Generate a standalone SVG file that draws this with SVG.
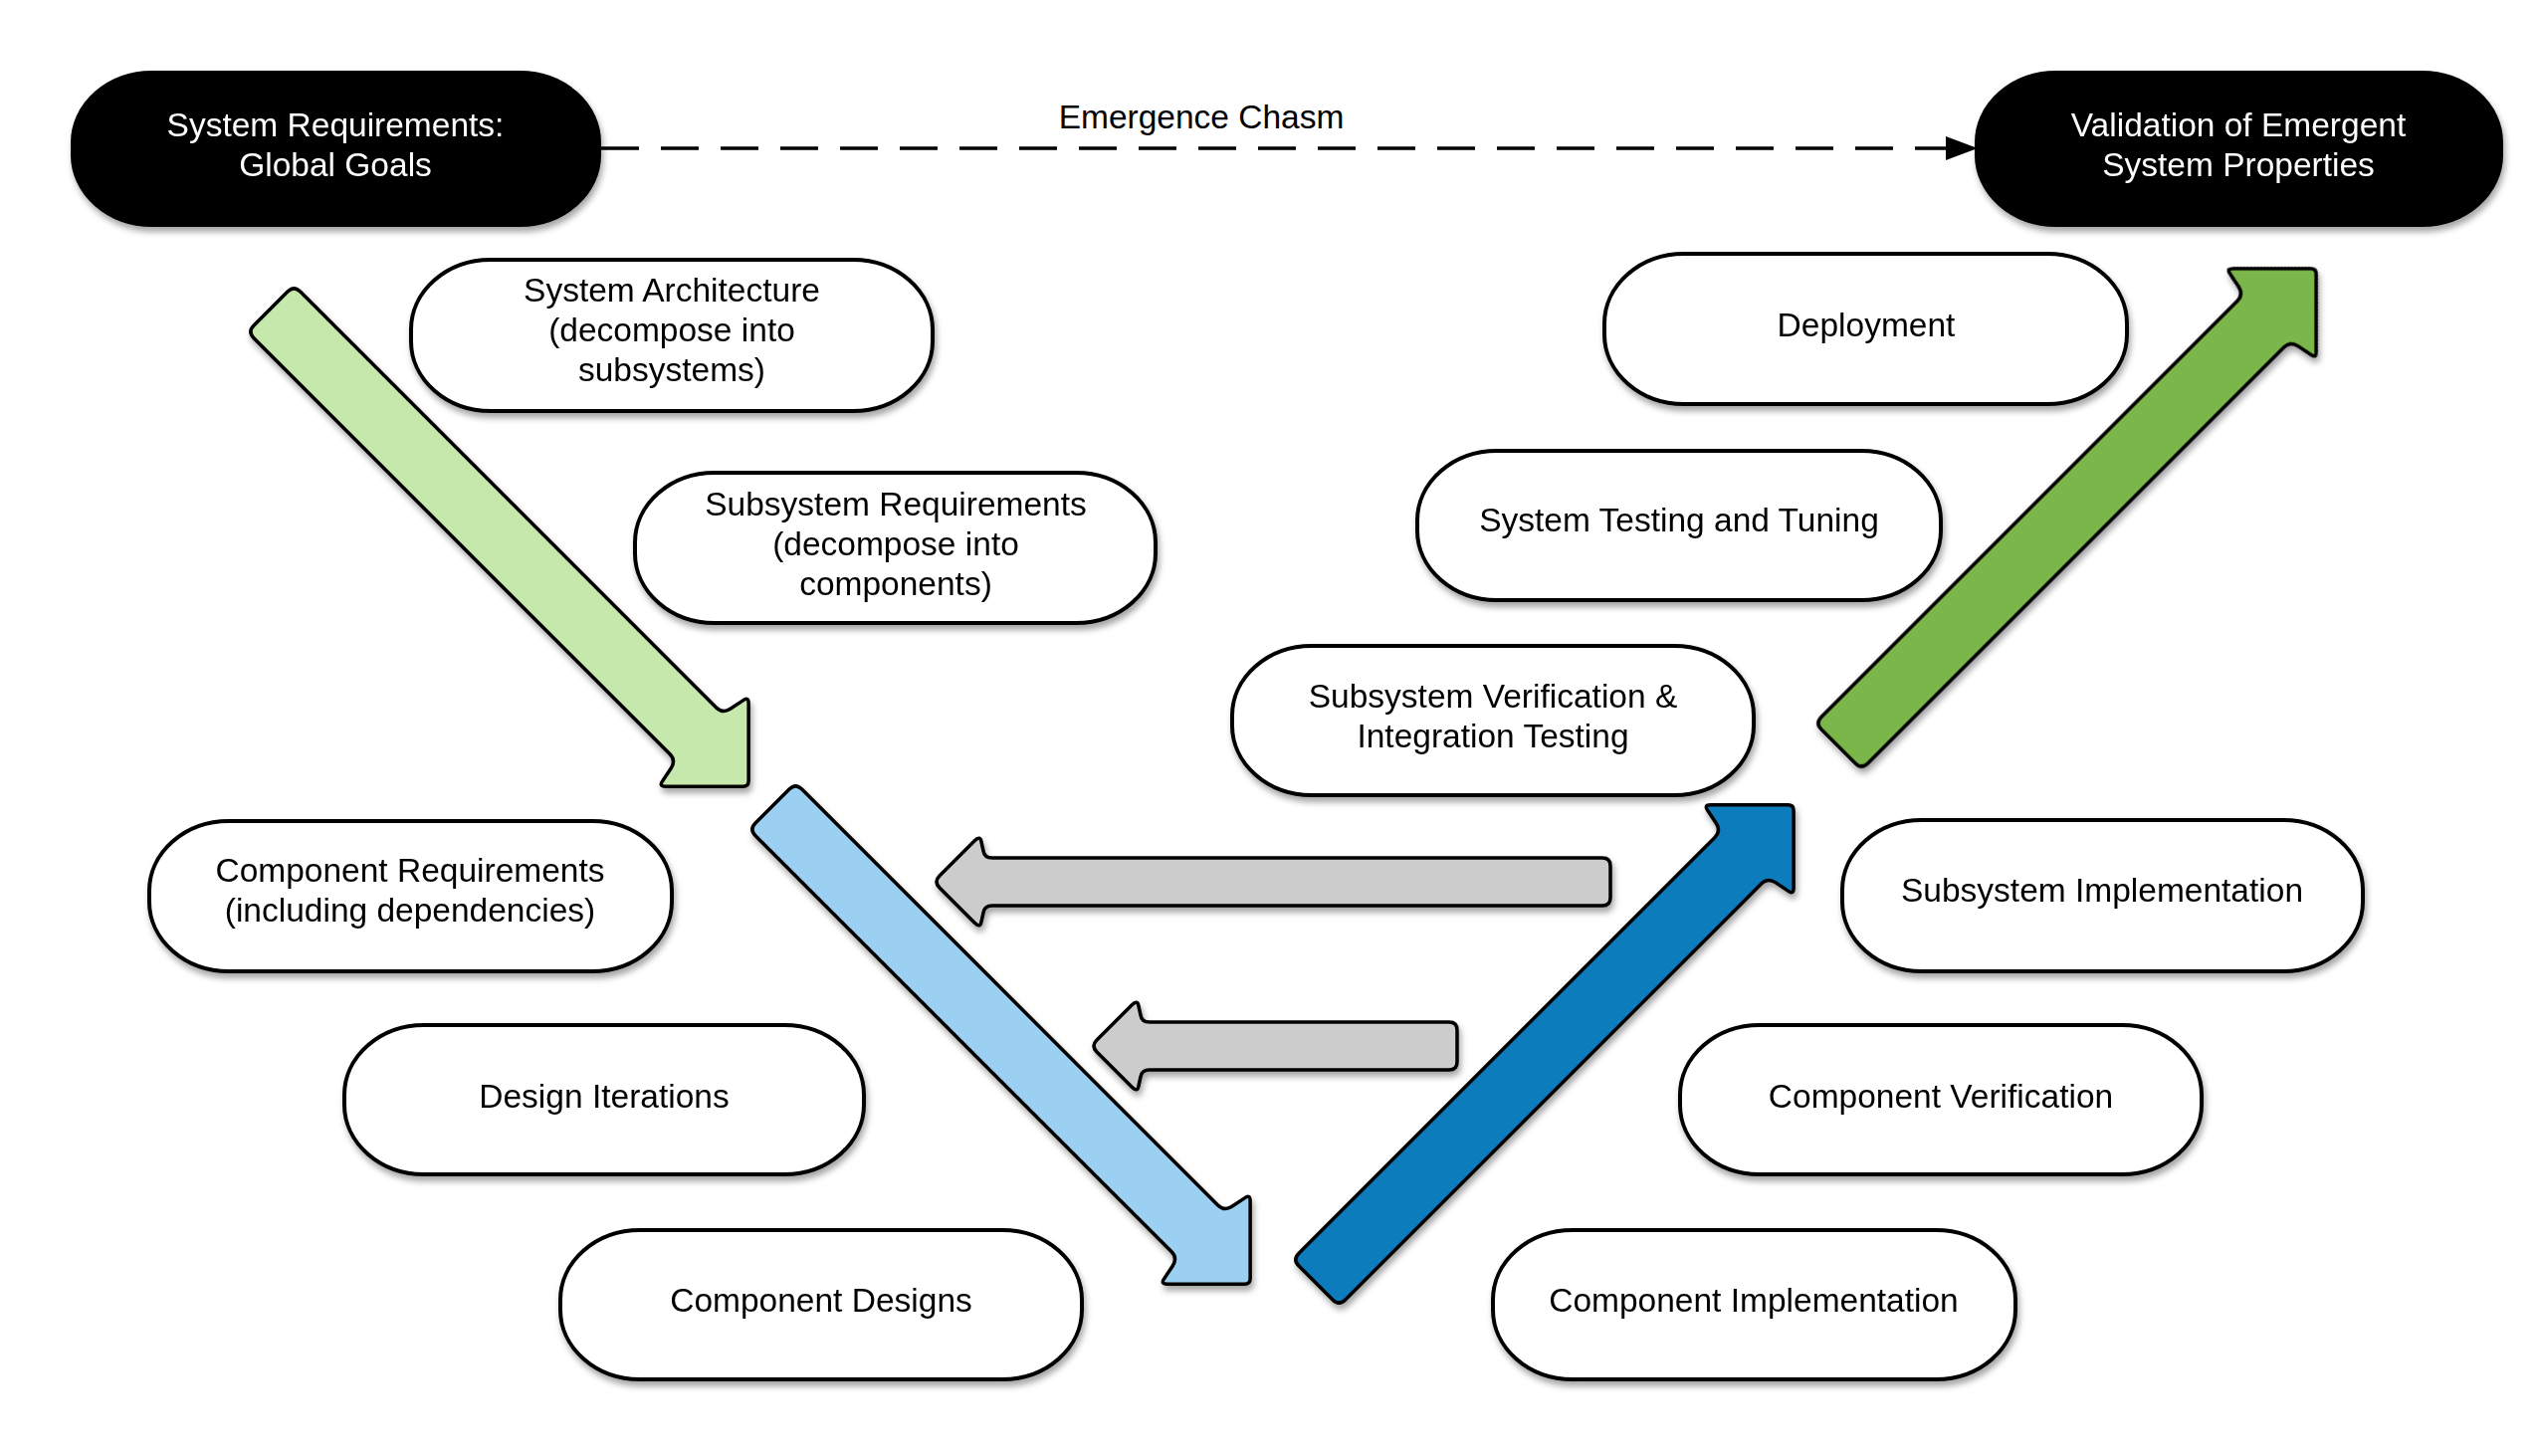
<svg xmlns="http://www.w3.org/2000/svg" width="2550" height="1463" viewBox="0 0 2550 1463">
<defs>
<filter id="sh" x="-10%" y="-10%" width="130%" height="140%">
<feDropShadow dx="2" dy="5" stdDeviation="3" flood-color="#000" flood-opacity="0.35"/>
</filter>
<path id="diag" d="M 9,-33 L 600,-33 Q 609,-33 611,-42 L 614,-57 Q 615,-64 620,-59 L 675,-4 Q 679,0 675,4 L 620,59 Q 615,64 614,57 L 611,42 Q 609,33 600,33 L 9,33 Q 0,33 0,24 L 0,-24 Q 0,-33 9,-33 Z"/>
<marker id="tri" viewBox="0 0 32 24" refX="31" refY="12" markerWidth="32" markerHeight="24" markerUnits="userSpaceOnUse" orient="auto">
<path d="M0,0 L32,12 L0,24 Z" fill="#000"/>
</marker>
</defs>
<style>
.node rect{fill:#fff;stroke:#000;stroke-width:4}
.dark rect{fill:#000;stroke:#000;stroke-width:4}
text{font-family:"Liberation Sans",Arial,sans-serif;font-size:33.5px;text-anchor:middle;fill:#000}
.dark text{fill:#fff}
.arr{stroke:#000;stroke-width:3.5;stroke-linejoin:round}
</style>
<rect width="2550" height="1463" fill="#fff"/>

<g id="connectors">
<line x1="604" y1="149" x2="1986" y2="149" stroke="#000" stroke-width="3.5" stroke-dasharray="38 22" marker-end="url(#tri)"/>
<text x="1207" y="129">Emergence Chasm</text>
</g>

<g id="flow-arrows" filter="url(#sh)">
<use id="arrow-decompose-1" href="#diag" class="arr" fill="#c7e8ac" transform="translate(272,310) rotate(45)"/>
<use id="arrow-decompose-2" href="#diag" class="arr" fill="#9bd0f3" transform="translate(776,810) rotate(45)"/>
<use id="arrow-integrate-1" href="#diag" class="arr" fill="#0e7bbd" transform="translate(1322,1289) rotate(-45)"/>
<use id="arrow-integrate-2" href="#diag" class="arr" fill="#7ab648" transform="translate(1847,750) rotate(-45)"/>
<path id="arrow-feedback-1" class="arr" fill="#cccccc" d="M 944,880 L 979,845 Q 985,839 986,846 L 988,855 Q 989,862 997,862 L 1610,862 Q 1618,862 1618,870 L 1618,902 Q 1618,910 1610,910 L 997,910 Q 989,910 988,917 L 986,926 Q 985,933 979,927 L 944,892 Q 938,886 944,880 Z"/>
<path id="arrow-feedback-2" class="arr" fill="#cccccc" d="M 1102,1045 L 1137,1010 Q 1143,1004 1144,1011 L 1146,1020 Q 1147,1027 1155,1027 L 1456,1027 Q 1464,1027 1464,1035 L 1464,1067 Q 1464,1075 1456,1075 L 1155,1075 Q 1147,1075 1146,1082 L 1144,1091 Q 1143,1098 1137,1092 L 1102,1057 Q 1096,1051 1102,1045 Z"/>
</g>

<g id="system-requirements" class="dark">
<rect x="73" y="73" width="529" height="153" rx="80" ry="70" filter="url(#sh)"/>
<text x="337" y="137">System Requirements:</text>
<text x="337" y="177">Global Goals</text>
</g>
<g id="validation" class="dark">
<rect x="1986" y="73" width="527" height="153" rx="80" ry="70" filter="url(#sh)"/>
<text x="2249" y="137">Validation of Emergent</text>
<text x="2249" y="177">System Properties</text>
</g>

<g id="system-architecture" class="node">
<rect x="413" y="261" width="524" height="152" rx="80" ry="70" filter="url(#sh)"/>
<text x="675" y="303">System Architecture</text>
<text x="675" y="343">(decompose into</text>
<text x="675" y="383">subsystems)</text>
</g>
<g id="subsystem-requirements" class="node">
<rect x="638" y="475" width="523" height="151" rx="80" ry="70" filter="url(#sh)"/>
<text x="900" y="518">Subsystem Requirements</text>
<text x="900" y="558">(decompose into</text>
<text x="900" y="598">components)</text>
</g>
<g id="component-requirements" class="node">
<rect x="150" y="825" width="525" height="151" rx="80" ry="70" filter="url(#sh)"/>
<text x="412" y="886">Component Requirements</text>
<text x="412" y="926">(including dependencies)</text>
</g>
<g id="design-iterations" class="node">
<rect x="346" y="1030" width="522" height="150" rx="80" ry="70" filter="url(#sh)"/>
<text x="607" y="1113">Design Iterations</text>
</g>
<g id="component-designs" class="node">
<rect x="563" y="1236" width="524" height="150" rx="80" ry="70" filter="url(#sh)"/>
<text x="825" y="1318">Component Designs</text>
</g>
<g id="deployment" class="node">
<rect x="1612" y="255" width="525" height="151" rx="80" ry="70" filter="url(#sh)"/>
<text x="1875" y="338">Deployment</text>
</g>
<g id="system-testing" class="node">
<rect x="1424" y="453" width="526" height="150" rx="80" ry="70" filter="url(#sh)"/>
<text x="1687" y="534">System Testing and Tuning</text>
</g>
<g id="subsystem-verification" class="node">
<rect x="1238" y="649" width="524" height="150" rx="80" ry="70" filter="url(#sh)"/>
<text x="1500" y="711">Subsystem Verification &amp;</text>
<text x="1500" y="751">Integration Testing</text>
</g>
<g id="subsystem-implementation" class="node">
<rect x="1851" y="824" width="523" height="152" rx="80" ry="70" filter="url(#sh)"/>
<text x="2112" y="906">Subsystem Implementation</text>
</g>
<g id="component-verification" class="node">
<rect x="1688" y="1030" width="524" height="150" rx="80" ry="70" filter="url(#sh)"/>
<text x="1950" y="1113">Component Verification</text>
</g>
<g id="component-implementation" class="node">
<rect x="1500" y="1236" width="525" height="150" rx="80" ry="70" filter="url(#sh)"/>
<text x="1762" y="1318">Component Implementation</text>
</g>
</svg>
